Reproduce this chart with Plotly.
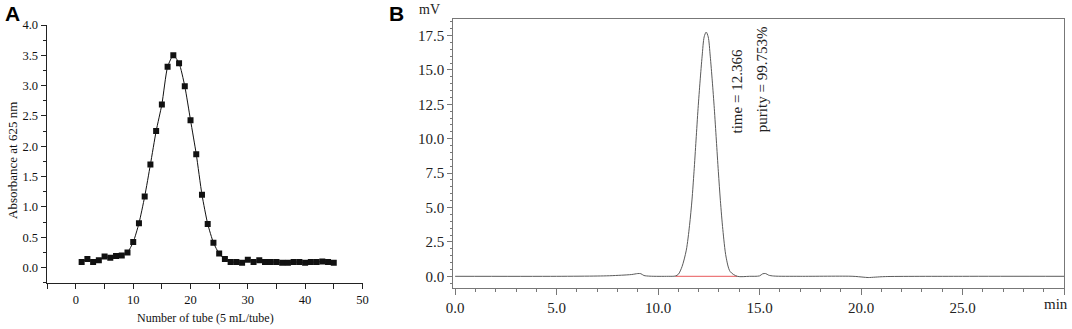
import plotly.graph_objects as go

# ── Panel A: absorbance per tube ───────────────────────────────────────────────
tube = list(range(1, 46))
absorbance = [
    0.09, 0.14, 0.09, 0.12, 0.18, 0.16, 0.19, 0.20, 0.25, 0.42,
    0.73, 1.17, 1.70, 2.25, 2.69, 3.31, 3.50, 3.37, 2.99, 2.43,
    1.87, 1.20, 0.72, 0.41, 0.23, 0.14, 0.09, 0.09, 0.08, 0.13,
    0.09, 0.12, 0.09, 0.09, 0.09, 0.08, 0.08, 0.09, 0.09, 0.08,
    0.09, 0.09, 0.10, 0.09, 0.08,
]

# ── Panel B: HPLC chromatogram ────────────────────────────────────────────────
rt_min = [
    0.0, 5.0, 7.0, 7.6, 8.2, 8.7, 9.0, 9.15, 9.3, 9.6, 10.5, 10.85,
    11.0, 11.18, 11.39, 11.55, 11.67, 11.77, 11.87, 11.97, 12.07, 12.17,
    12.27, 12.37, 12.47, 12.57, 12.67, 12.77, 12.87, 12.97, 13.07, 13.19,
    13.35, 13.55, 13.9, 14.5, 15.0, 15.15, 15.3, 15.45, 15.7, 17.0,
    19.6, 20.1, 20.35, 20.7, 21.2, 25.0, 30.0,
]
signal_mv = [
    0.0, 0.0, 0.02, 0.04, 0.08, 0.13, 0.20, 0.19, 0.06, 0.01, 0.0, 0.02,
    0.15, 0.70, 1.90, 3.70, 5.55, 7.60, 9.90, 12.20, 14.20, 16.00,
    17.40, 17.75, 17.40, 16.00, 14.20, 12.20, 9.90, 7.60, 5.50, 3.40,
    1.40, 0.35, 0.0, 0.0, 0.03, 0.18, 0.20, 0.08, 0.02, 0.0,
    0.0, -0.06, -0.09, -0.06, -0.02, 0.0, 0.0,
]
baseline_x = [10.85, 13.9]
baseline_y = [0.0, 0.0]

x_ticks_b = [0, 5, 10, 15, 20, 25, 30]
x_labels_b = ["0.0", "5.0", "10.0", "15.0", "20.0", "25.0", ""]
y_ticks_b = [0, 2.5, 5, 7.5, 10, 12.5, 15, 17.5]
y_labels_b = ["0.0", "2.5", "5.0", "7.5", "10.0", "12.5", "15.0", "17.5"]

W, H = 1072, 329
SERIF = "Liberation Serif, Times New Roman, serif"


def px_x(p):
    return p / W


def px_y(p):
    return 1 - p / H


fig = go.Figure()

fig.add_trace(go.Scatter(
    x=tube, y=absorbance, mode="lines+markers",
    line=dict(color="#111111", width=1, shape="spline", smoothing=0.6),
    marker=dict(symbol="square", size=6, color="#111111"),
    xaxis="x", yaxis="y", showlegend=False,
))

fig.add_trace(go.Scatter(
    x=baseline_x, y=baseline_y, mode="lines",
    line=dict(color="#E8585A", width=1),
    xaxis="x2", yaxis="y2", showlegend=False,
))
fig.add_trace(go.Scatter(
    x=rt_min, y=signal_mv, mode="lines",
    line=dict(color="#5a5a5a", width=1, shape="spline", smoothing=0.8),
    xaxis="x2", yaxis="y2", showlegend=False,
))

axis_a = dict(
    showline=True, linecolor="#222222", linewidth=1.3, showgrid=False, zeroline=False,
    ticks="outside", ticklen=5, tickwidth=1.2, tickcolor="#222222", automargin=False,
    tickfont=dict(family=SERIF, size=12.5, color="#111111"),
)
axis_b = dict(
    showline=True, linecolor="#777777", linewidth=1, mirror=True, showgrid=False,
    zeroline=False, ticks="outside", ticklen=5, tickwidth=1, tickcolor="#777777",
    automargin=False, tickfont=dict(family=SERIF, size=15, color="#222222"),
)

fig.update_layout(
    template="none",
    width=W, height=H,
    margin=dict(l=0, r=0, t=0, b=0, pad=0),
    paper_bgcolor="white", plot_bgcolor="white",
    xaxis=dict(
        axis_a, domain=[px_x(46.7), px_x(362.7)], range=[-5.1, 50.05],
        tickvals=[0, 10, 20, 30, 40, 50],
        minor=dict(dtick=5, tick0=0, ticks="outside", ticklen=5, tickcolor="#222222"),
        anchor="y",
    ),
    yaxis=dict(
        axis_a, domain=[px_y(283.3), px_y(25)], range=[-0.26, 4.0],
        tickvals=[0, 0.5, 1, 1.5, 2, 2.5, 3, 3.5, 4],
        ticktext=["0.0", "0.5", "1.0", "1.5", "2.0", "2.5", "3.0", "3.5", "4.0"],
        minor=dict(dtick=0.25, tick0=0, ticks="outside", ticklen=3, tickcolor="#222222"),
        anchor="x",
    ),
    xaxis2=dict(
        axis_b, domain=[px_x(453.3), px_x(1064)], range=[-0.09, 30],
        tickvals=x_ticks_b, ticktext=x_labels_b, ticklen=6,
        minor=dict(dtick=1, tick0=0, ticks="outside", ticklen=3, tickcolor="#777777"),
        anchor="y2",
    ),
    yaxis2=dict(
        axis_b, domain=[px_y(288), px_y(19)], range=[-0.85, 18.7],
        tickvals=y_ticks_b, ticktext=y_labels_b,
        minor=dict(dtick=0.5, tick0=0, ticks="outside", ticklen=2.5, tickcolor="#777777"),
        anchor="x2",
    ),
)

annotations = [
    dict(text="<b>A</b>", x=px_x(12), y=px_y(14), font=dict(family="Liberation Sans, Arial", size=21, color="black")),
    dict(text="<b>B</b>", x=px_x(396), y=px_y(14), font=dict(family="Liberation Sans, Arial", size=21, color="black")),
    dict(text="mV", x=px_x(429), y=px_y(10), font=dict(family=SERIF, size=14, color="#222222")),
    dict(text="min", x=px_x(1056), y=px_y(304), font=dict(family=SERIF, size=15, color="#222222")),
    dict(text="Absorbance at 625 nm", x=px_x(13), y=px_y(161), textangle=-90,
         font=dict(family=SERIF, size=13, color="#111111")),
    dict(text="Number of tube (5 mL/tube)", x=px_x(205), y=px_y(318),
         font=dict(family=SERIF, size=12, color="#111111")),
]
for a in annotations:
    a.update(xref="paper", yref="paper", showarrow=False, xanchor="center", yanchor="middle")
    fig.add_annotation(**a)

fig.add_annotation(text="time = 12.366", x=13.9, y=13.45, xref="x2", yref="y2",
                   textangle=-90, showarrow=False, xanchor="center", yanchor="middle",
                   font=dict(family=SERIF, size=15, color="#222222"))
fig.add_annotation(text="purity = 99.753%", x=15.1, y=14.3, xref="x2", yref="y2",
                   textangle=-90, showarrow=False, xanchor="center", yanchor="middle",
                   font=dict(family=SERIF, size=15, color="#222222"))

# page body has a default 8px margin; drop it so the figure fills the window
fig.write_html(
    "out.html",
    config={"displayModeBar": False},
    post_script="document.body.style.margin='0';document.body.style.overflow='hidden';",
)
